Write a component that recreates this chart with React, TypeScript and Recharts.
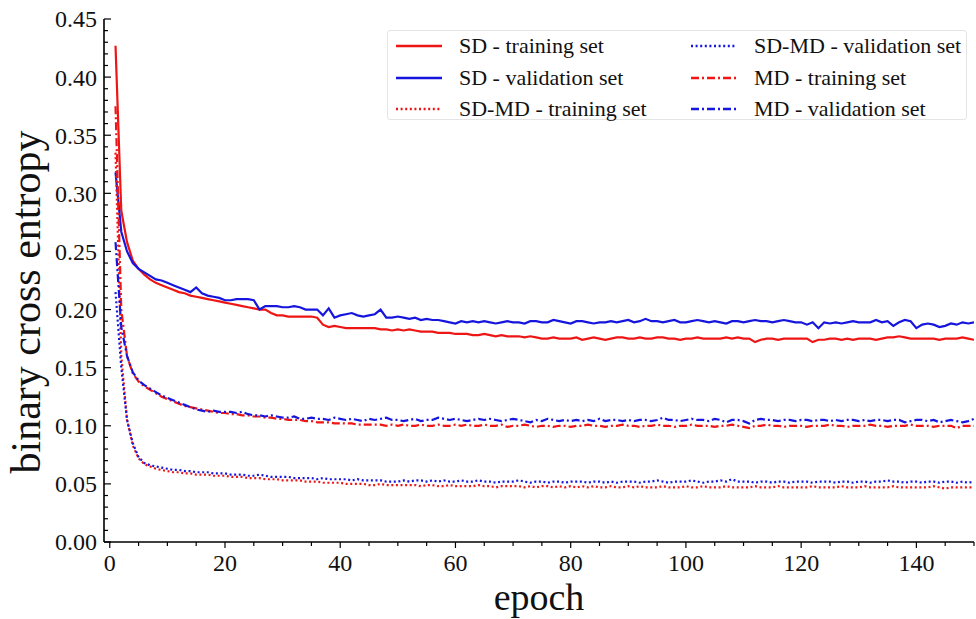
import { LineChart, Line, XAxis, YAxis, Legend } from 'recharts';

const epochs = Array.from({ length: 150 }, (_, i) => i + 1);

const sdTrain = [
  0.427, 0.285, 0.258, 0.242, 0.235, 0.230, 0.226, 0.223, 0.221, 0.219,
  0.217, 0.215, 0.214, 0.212, 0.211, 0.210, 0.209, 0.208, 0.207, 0.206,
  0.205, 0.204, 0.203, 0.202, 0.201, 0.200, 0.200, 0.197, 0.195, 0.195,
  0.194, 0.194, 0.194, 0.194, 0.194, 0.193, 0.187, 0.185, 0.186, 0.185,
  0.184, 0.184, 0.184, 0.184, 0.184, 0.184, 0.183, 0.183, 0.182, 0.183,
  0.182, 0.183, 0.182, 0.181, 0.181, 0.181, 0.180, 0.180, 0.180, 0.179,
  0.179, 0.179, 0.178, 0.178, 0.179, 0.178, 0.177, 0.178, 0.177, 0.177,
  0.177, 0.176, 0.177, 0.176, 0.175, 0.175, 0.176, 0.175, 0.175, 0.175,
  0.176, 0.174, 0.175, 0.176, 0.175, 0.174, 0.175, 0.176, 0.176, 0.175,
  0.175, 0.176, 0.175, 0.175, 0.176, 0.176, 0.175, 0.175, 0.174, 0.175,
  0.175, 0.176, 0.175, 0.175, 0.175, 0.175, 0.176, 0.175, 0.176, 0.175,
  0.175, 0.172, 0.174, 0.175, 0.175, 0.174, 0.175, 0.175, 0.175, 0.175,
  0.175, 0.172, 0.174, 0.174, 0.175, 0.175, 0.174, 0.175, 0.174, 0.175,
  0.175, 0.175, 0.174, 0.175, 0.176, 0.176, 0.177, 0.176, 0.175, 0.175,
  0.175, 0.175, 0.175, 0.174, 0.175, 0.175, 0.175, 0.176, 0.175, 0.174,
];

const sdVal = [
  0.318, 0.267, 0.250, 0.240, 0.235, 0.232, 0.229, 0.226, 0.225, 0.223,
  0.221, 0.219, 0.217, 0.215, 0.219, 0.214, 0.212, 0.211, 0.210, 0.208,
  0.208, 0.209, 0.209, 0.209, 0.208, 0.200, 0.203, 0.203, 0.203, 0.202,
  0.202, 0.203, 0.202, 0.200, 0.200, 0.200, 0.195, 0.201, 0.193, 0.195,
  0.196, 0.197, 0.195, 0.194, 0.195, 0.196, 0.200, 0.193, 0.193, 0.194,
  0.193, 0.192, 0.193, 0.191, 0.192, 0.191, 0.191, 0.190, 0.189, 0.188,
  0.190, 0.189, 0.190, 0.189, 0.190, 0.189, 0.188, 0.189, 0.190, 0.189,
  0.189, 0.188, 0.190, 0.190, 0.189, 0.189, 0.191, 0.190, 0.189, 0.188,
  0.190, 0.190, 0.189, 0.188, 0.189, 0.189, 0.190, 0.189, 0.190, 0.191,
  0.189, 0.190, 0.192, 0.190, 0.190, 0.189, 0.190, 0.191, 0.189, 0.189,
  0.190, 0.191, 0.190, 0.189, 0.190, 0.189, 0.188, 0.190, 0.190, 0.189,
  0.190, 0.191, 0.190, 0.190, 0.189, 0.190, 0.191, 0.190, 0.189, 0.189,
  0.187, 0.189, 0.184, 0.189, 0.188, 0.189, 0.188, 0.189, 0.190, 0.189,
  0.189, 0.189, 0.191, 0.189, 0.190, 0.186, 0.189, 0.191, 0.190, 0.184,
  0.187, 0.188, 0.187, 0.185, 0.186, 0.188, 0.187, 0.189, 0.188, 0.189,
];

const sdmdTrain = [
  0.335, 0.160, 0.105, 0.083, 0.072, 0.067, 0.065, 0.063, 0.062, 0.061,
  0.060, 0.060, 0.059, 0.059, 0.058, 0.058, 0.058, 0.057, 0.057, 0.057,
  0.056, 0.056, 0.056, 0.055, 0.055, 0.055, 0.054, 0.054, 0.054, 0.053,
  0.053, 0.053, 0.053, 0.052, 0.052, 0.052, 0.051, 0.051, 0.051, 0.051,
  0.050, 0.050, 0.050, 0.050, 0.049, 0.049, 0.050, 0.049, 0.049, 0.049,
  0.049, 0.049, 0.049, 0.048, 0.049, 0.049, 0.048, 0.048, 0.049, 0.048,
  0.048, 0.048, 0.048, 0.049, 0.048, 0.048, 0.047, 0.048, 0.048, 0.048,
  0.048, 0.047, 0.048, 0.047, 0.048, 0.048, 0.047, 0.048, 0.047, 0.048,
  0.047, 0.048, 0.047, 0.048, 0.047, 0.047, 0.048, 0.047, 0.047, 0.048,
  0.047, 0.048, 0.047, 0.047, 0.047, 0.048, 0.047, 0.047, 0.047, 0.048,
  0.047, 0.047, 0.048, 0.047, 0.047, 0.047, 0.048, 0.047, 0.047, 0.047,
  0.047, 0.048, 0.047, 0.047, 0.047, 0.048, 0.047, 0.047, 0.047, 0.047,
  0.047, 0.048, 0.047, 0.047, 0.047, 0.047, 0.048, 0.047, 0.047, 0.047,
  0.048, 0.047, 0.047, 0.047, 0.047, 0.048, 0.047, 0.047, 0.047, 0.047,
  0.047, 0.047, 0.048, 0.047, 0.046, 0.047, 0.047, 0.047, 0.047, 0.047,
];

const sdmdVal = [
  0.215, 0.150, 0.105, 0.085, 0.073, 0.068, 0.066, 0.065, 0.064, 0.063,
  0.062, 0.062, 0.061, 0.061, 0.060, 0.060, 0.060, 0.059, 0.059, 0.059,
  0.058, 0.058, 0.058, 0.057, 0.057, 0.058, 0.057, 0.056, 0.056, 0.056,
  0.056, 0.055, 0.055, 0.055, 0.055, 0.054, 0.055, 0.054, 0.054, 0.054,
  0.054, 0.053, 0.054, 0.053, 0.053, 0.053, 0.053, 0.052, 0.052, 0.052,
  0.053, 0.052, 0.053, 0.053, 0.052, 0.053, 0.052, 0.053, 0.052, 0.052,
  0.053, 0.052, 0.052, 0.053, 0.052, 0.052, 0.051, 0.052, 0.052, 0.052,
  0.053, 0.052, 0.051, 0.052, 0.052, 0.051, 0.052, 0.052, 0.051, 0.052,
  0.052, 0.052, 0.051, 0.052, 0.052, 0.051, 0.052, 0.051, 0.052, 0.052,
  0.052, 0.051, 0.052, 0.052, 0.053, 0.052, 0.051, 0.052, 0.052, 0.052,
  0.053, 0.052, 0.051, 0.052, 0.052, 0.053, 0.052, 0.054, 0.052, 0.052,
  0.052, 0.051, 0.052, 0.052, 0.051, 0.052, 0.052, 0.051, 0.052, 0.052,
  0.052, 0.051, 0.052, 0.052, 0.052, 0.051, 0.052, 0.052, 0.051, 0.052,
  0.052, 0.051, 0.052, 0.052, 0.053, 0.052, 0.052, 0.051, 0.052, 0.052,
  0.051, 0.052, 0.052, 0.051, 0.052, 0.052, 0.051, 0.052, 0.051, 0.052,
];

const mdTrain = [
  0.375, 0.200, 0.160, 0.145, 0.138, 0.134, 0.131, 0.128, 0.125, 0.123,
  0.121, 0.119, 0.117, 0.116, 0.115, 0.114, 0.113, 0.112, 0.111, 0.111,
  0.110, 0.110, 0.109, 0.109, 0.108, 0.108, 0.107, 0.107, 0.106, 0.106,
  0.105, 0.105, 0.105, 0.104, 0.104, 0.103, 0.103, 0.103, 0.102, 0.102,
  0.102, 0.102, 0.101, 0.101, 0.101, 0.101, 0.101, 0.100, 0.101, 0.100,
  0.101, 0.100, 0.100, 0.101, 0.100, 0.100, 0.101, 0.100, 0.100, 0.101,
  0.100, 0.101, 0.100, 0.100, 0.101, 0.100, 0.100, 0.101, 0.099, 0.100,
  0.100, 0.101, 0.100, 0.099, 0.100, 0.100, 0.099, 0.100, 0.100, 0.099,
  0.100, 0.100, 0.101, 0.100, 0.100, 0.099, 0.100, 0.100, 0.101, 0.100,
  0.100, 0.099, 0.100, 0.100, 0.101, 0.100, 0.100, 0.099, 0.100, 0.100,
  0.101, 0.100, 0.100, 0.100, 0.099, 0.100, 0.100, 0.101, 0.100, 0.099,
  0.098, 0.100, 0.100, 0.101, 0.100, 0.100, 0.099, 0.100, 0.100, 0.100,
  0.099, 0.100, 0.100, 0.100, 0.101, 0.100, 0.100, 0.099, 0.100, 0.100,
  0.100, 0.101, 0.100, 0.100, 0.099, 0.100, 0.100, 0.100, 0.101, 0.100,
  0.100, 0.100, 0.099, 0.100, 0.100, 0.100, 0.098, 0.100, 0.100, 0.100,
];

const mdVal = [
  0.258, 0.185, 0.160, 0.146, 0.139, 0.135, 0.132, 0.129, 0.126, 0.124,
  0.122, 0.120, 0.118, 0.116, 0.114, 0.113, 0.112, 0.113, 0.112, 0.112,
  0.112, 0.111, 0.112, 0.110, 0.109, 0.109, 0.108, 0.109, 0.108, 0.107,
  0.107, 0.108, 0.106, 0.106, 0.107, 0.106, 0.106, 0.105, 0.107, 0.106,
  0.105, 0.106, 0.105, 0.104, 0.106, 0.105, 0.106, 0.107, 0.105, 0.105,
  0.104, 0.105, 0.106, 0.104, 0.105, 0.105, 0.107, 0.106, 0.105, 0.106,
  0.105, 0.104, 0.105, 0.106, 0.105, 0.106, 0.105, 0.104, 0.105, 0.106,
  0.105, 0.104, 0.103, 0.105, 0.104, 0.106, 0.105, 0.104, 0.105, 0.104,
  0.105, 0.104, 0.105, 0.104, 0.106, 0.104, 0.105, 0.105, 0.104, 0.105,
  0.104, 0.105, 0.105, 0.104, 0.105, 0.107, 0.105, 0.105, 0.104, 0.105,
  0.106, 0.105, 0.105, 0.104, 0.106, 0.105, 0.103, 0.105, 0.105, 0.104,
  0.102, 0.105, 0.106, 0.105, 0.105, 0.104, 0.105, 0.105, 0.104, 0.105,
  0.105, 0.104, 0.105, 0.105, 0.104, 0.105, 0.104, 0.105, 0.105, 0.104,
  0.105, 0.104, 0.105, 0.105, 0.104, 0.105, 0.105, 0.103, 0.104, 0.105,
  0.105, 0.104, 0.105, 0.103, 0.104, 0.105, 0.104, 0.103, 0.104, 0.106,
];

const xTicks = Array.from({ length: 31 }, (_, i) => i * 5);
const yTicks = Array.from({ length: 46 }, (_, i) => i / 100);

const RED = '#ee1515';
const BLUE = '#1515dd';
const FONT = "'Liberation Serif', 'Times New Roman', serif";
const DOT = '2 2.6';
const DASHDOT = '8 3 2 3';

const series = [
  { key: 'sdTrain', name: 'SD - training set', color: RED, dash: undefined },
  { key: 'sdVal', name: 'SD - validation set', color: BLUE, dash: undefined },
  { key: 'sdmdTrain', name: 'SD-MD - training set', color: RED, dash: DOT },
  { key: 'sdmdVal', name: 'SD-MD - validation set', color: BLUE, dash: DOT },
  { key: 'mdTrain', name: 'MD - training set', color: RED, dash: DASHDOT },
  { key: 'mdVal', name: 'MD - validation set', color: BLUE, dash: DASHDOT },
];

const data = epochs.map((epoch, i) => ({
  epoch,
  sdTrain: sdTrain[i],
  sdVal: sdVal[i],
  sdmdTrain: sdmdTrain[i],
  sdmdVal: sdmdVal[i],
  mdTrain: mdTrain[i],
  mdVal: mdVal[i],
}));

const isMajorY = (v: number) => Math.round(v * 100) % 5 === 0;

const BottomTick = (props: any) => {
  const { x, y, payload } = props;
  const major = payload.value % 20 === 0;
  return (
    <g>
      <line x1={x} y1={y} x2={x} y2={y + (major ? 6 : 4)} stroke="#000" strokeWidth={1.2} />
      {major && (
        <text x={x} y={y + 29} textAnchor="middle" fontFamily={FONT} fontSize={24} fill="#111">
          {payload.value}
        </text>
      )}
    </g>
  );
};

const LeftTick = (props: any) => {
  const { x, y, payload } = props;
  const major = isMajorY(payload.value);
  return (
    <g>
      <line x1={x} y1={y} x2={x + (major ? 7 : 4)} y2={y} stroke="#000" strokeWidth={1.2} />
      {major && (
        <text x={x - 7} y={y} dy="0.35em" textAnchor="end" fontFamily={FONT} fontSize={24} fill="#111">
          {payload.value.toFixed(2)}
        </text>
      )}
    </g>
  );
};

const RightTick = (props: any) => {
  const { x, y, payload } = props;
  const major = isMajorY(payload.value);
  return <line x1={x} y1={y} x2={x - (major ? 7 : 4)} y2={y} stroke="#000" strokeWidth={1.2} />;
};

const LegendBox = () => (
  <div
    style={{
      width: 580,
      height: 90,
      boxSizing: 'border-box',
      border: '1px solid #e4e4e4',
      borderRadius: 3,
      background: '#fff',
      position: 'relative',
      fontFamily: FONT,
      fontSize: 22,
      color: '#111',
    }}
  >
    {series.map((s, i) => {
      const col = i < 3 ? 0 : 1;
      const row = i % 3;
      const left = col === 0 ? 7 : 302;
      const top = 15 + row * 31.5;
      return (
        <div key={s.key} style={{ position: 'absolute', left, top: top - 14, height: 28, display: 'flex', alignItems: 'center', whiteSpace: 'nowrap' }}>
          <svg width={48} height={10} style={{ marginRight: 16 }}>
            <line x1={1} y1={5} x2={47} y2={5} stroke={s.color} strokeWidth={2.3} strokeDasharray={s.dash} />
          </svg>
          <span>{s.name}</span>
        </div>
      );
    })}
  </div>
);

export default function App() {
  return (
    <div style={{ position: 'absolute', left: 0, top: 0, width: 976, height: 619, background: '#fff' }}>
      <LineChart width={976} height={619} data={data} margin={{ top: 19, right: 2, bottom: 0, left: 0 }}>
        <XAxis
          dataKey="epoch"
          type="number"
          domain={[-1, 150]}
          ticks={xTicks}
          interval={0}
          tickSize={0}
          tickMargin={0}
          tickLine={false}
          tick={<BottomTick />}
          height={77}
          axisLine={{ stroke: '#000', strokeWidth: 1.6 }}
          allowDataOverflow
          label={{
            content: () => (
              <text x={539} y={610} textAnchor="middle" fontFamily={FONT} fontSize={38} fill="#111">
                epoch
              </text>
            ),
          }}
        />
        <XAxis
          xAxisId="top"
          orientation="top"
          type="number"
          domain={[-1, 150]}
          tick={false}
          tickLine={false}
          height={0}
          axisLine={{ stroke: '#000', strokeWidth: 1.6 }}
          allowDataOverflow
        />
        <YAxis
          type="number"
          domain={[0, 0.45]}
          ticks={yTicks}
          interval={0}
          tickSize={0}
          tickMargin={0}
          tickLine={false}
          tick={<LeftTick />}
          width={104}
          axisLine={{ stroke: '#000', strokeWidth: 1.6 }}
          allowDataOverflow
          label={{
            content: () => (
              <text x={40} y={302} transform="rotate(-90 40 302)" textAnchor="middle" fontFamily={FONT} fontSize={42} fill="#111">
                binary cross entropy
              </text>
            ),
          }}
        />
        <YAxis
          yAxisId="right"
          orientation="right"
          type="number"
          domain={[0, 0.45]}
          ticks={yTicks}
          interval={0}
          tickSize={0}
          tickMargin={0}
          tickLine={false}
          tick={<RightTick />}
          width={0}
          axisLine={{ stroke: '#000', strokeWidth: 1.6 }}
          allowDataOverflow
        />
        {series.map((s) => (
          <Line
            key={s.key}
            type="linear"
            dataKey={s.key}
            name={s.name}
            stroke={s.color}
            strokeWidth={2.2}
            strokeDasharray={s.dash}
            dot={false}
            activeDot={false}
            isAnimationActive={false}
          />
        ))}
        <Legend
          layout="horizontal"
          verticalAlign="middle"
          align="center"
          content={<LegendBox />}
          wrapperStyle={{ position: 'absolute', left: 387, top: 30, width: 580, height: 90 }}
        />
      </LineChart>
    </div>
  );
}
